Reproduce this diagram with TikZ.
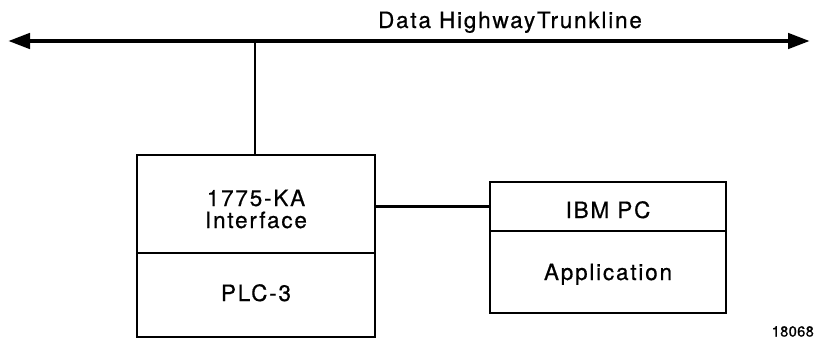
\documentclass[tikz,border=0pt]{standalone}
\usepackage{fontspec}
\setmainfont{TeX Gyre Heros}[LetterSpace=8,FakeBold=0.6]
\newfontfamily\idfont{TeX Gyre Heros}[LetterSpace=3,FakeBold=1]
\usetikzlibrary{arrows.meta}
\begin{document}
\begin{tikzpicture}[x=1pt,y=-1pt,
  box/.style={draw, line width=2.8pt, minimum width=#1, inner sep=0pt, anchor=center},
  lbl/.style={font=\fontsize{22.5}{24}\selectfont, anchor=base, inner sep=0pt},
  trunk/.style={line width=4.5pt, {Triangle[length=22pt,width=15pt]}-{Triangle[length=22pt,width=15pt]}},
  wire/.style={line width=2.6pt}]
\useasboundingbox (0,0) rectangle (816,340);
% boxes
\node[box=238pt, minimum height=98pt] (ka) at (256,204) {};
\node[box=238pt, minimum height=84pt] (plc) at (256,295) {};
\node[box=236pt, minimum height=49pt] (ibm) at (608,206.5) {};
\node[box=236pt, minimum height=82pt] (app) at (608,272) {};
% trunkline
\coordinate (tl) at (8,41);
\coordinate (tr) at (810,41);
\coordinate (tap) at (255,41);
\draw[trunk] (tl) -- (tr);
\draw[wire] (tap) -- (tap |- ka.north);
\draw[wire] (ka.east |- ibm.west) -- (ibm.west);
% labels
\node[lbl] (title) at (510,28) {Data HighwayTrunkline};
\node[lbl] (ka1) at (256,206) {1775-KA};
\node[lbl] (ka2) at (256,228) {Interface};
\node[lbl] (plct) at (256,301) {PLC-3};
\node[lbl] (ibmt) at (608,218) {IBM PC};
\node[lbl] (appt) at (608,280) {Application};
\node[font=\idfont\fontsize{14.5}{16}\selectfont, anchor=base east, inner sep=0pt] (fig) at (814,336.5) {18068};
\end{tikzpicture}
\end{document}
